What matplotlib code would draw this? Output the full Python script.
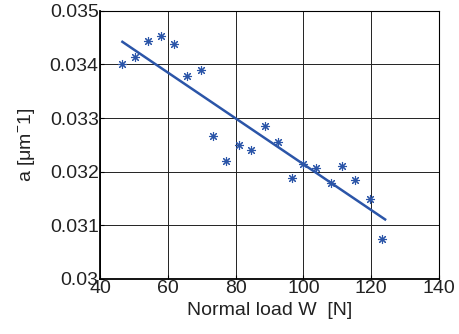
import numpy as np
import matplotlib
matplotlib.use("Agg")
import matplotlib.pyplot as plt

plt.rcParams['font.family'] = ['Liberation Sans', 'DejaVu Sans']
plt.rcParams['mathtext.fontset'] = 'custom'
plt.rcParams['mathtext.rm'] = 'Liberation Sans'

# measured points (normal load W [N], a [1/um])
load = [46.6, 50.3, 54.1, 58.1, 61.7, 65.7, 69.8, 73.4, 77.1, 81.0, 84.6,
        88.8, 92.4, 96.5, 99.9, 103.7, 108.1, 111.3, 115.3, 119.6, 123.1]
a_val = [0.03400, 0.03414, 0.03443, 0.03453, 0.03437, 0.03379, 0.03390,
         0.03266, 0.03220, 0.03250, 0.03241, 0.03286, 0.03256, 0.03189,
         0.03215, 0.03207, 0.03179, 0.03210, 0.03184, 0.03149, 0.03075]

# linear fit endpoints
fit_x = [46.6, 124.1]
fit_y = [0.03442, 0.03111]

xticks = [40, 60, 80, 100, 120, 140]
yticks = [0.030, 0.031, 0.032, 0.033, 0.034, 0.035]
yticklabels = ['0.03', '0.031', '0.032', '0.033', '0.034', '0.035']

col = '#2B55A8'

fig = plt.figure(figsize=(4.59, 3.34), dpi=100)
ax = fig.add_axes([0.2179, 0.1647, 0.7385, 0.8033])

ax.plot(load, a_val, linestyle='none', marker=(8, 2, 0), markersize=6.5,
        markeredgewidth=0.8, color=col)
ax.plot(fit_x, fit_y, '-', color=col, linewidth=1.8)

ax.set_xlim(40, 140)
ax.set_ylim(0.030, 0.035)
ax.set_xticks(xticks)
ax.set_yticks(yticks)
ax.set_yticklabels(yticklabels)
ax.grid(True, color='#222222', linewidth=0.7)
ax.tick_params(direction='in', labelsize=14, length=3, pad=1, color='black',
               labelcolor='#222222')
for s in ax.spines.values():
    s.set_linewidth(0.8)
ax.spines['left'].set_linewidth(1.3)
ax.spines['bottom'].set_linewidth(1.3)

ax.set_xlabel('Normal load W  [N]', fontsize=14, labelpad=3, color='#222222')
ax.set_ylabel(r'a [$\mathregular{\mu}$m$^{\mathregular{-}}$1]', fontsize=14,
              labelpad=9, color='#222222')

fig.savefig('out.png', dpi=100)
